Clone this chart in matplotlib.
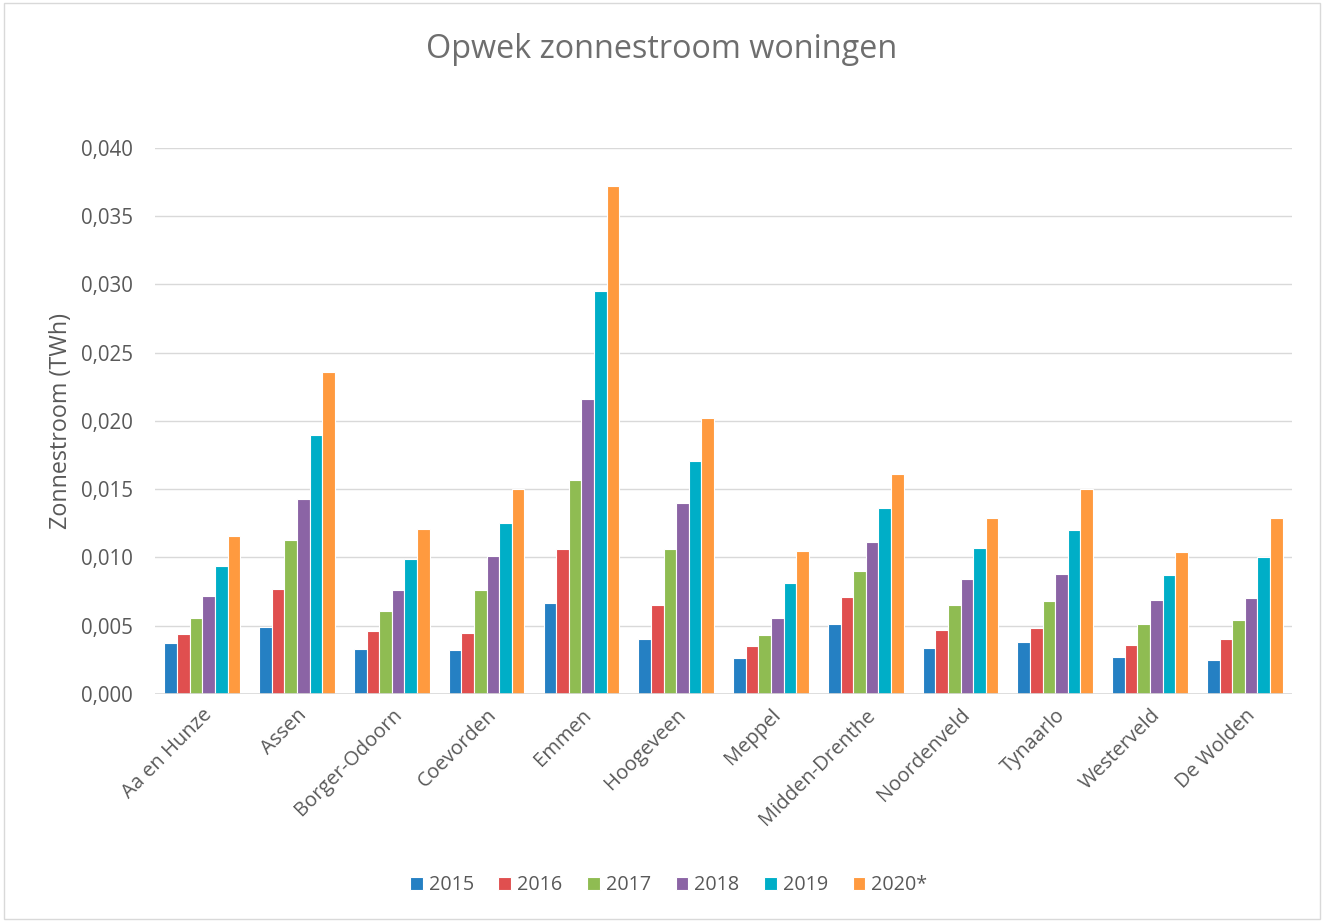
import matplotlib
matplotlib.use("Agg")
import matplotlib.pyplot as plt
import matplotlib.ticker as mticker
import numpy as np

# ── data ──────────────────────────────────────────────────────────────
gemeenten = ["Aa en Hunze", "Assen", "Borger-Odoorn", "Coevorden", "Emmen",
             "Hoogeveen", "Meppel", "Midden-Drenthe", "Noordenveld",
             "Tynaarlo", "Westerveld", "De Wolden"]
jaren = ["2015", "2016", "2017", "2018", "2019", "2020*"]

v2015 = [0.0037, 0.0049, 0.0033, 0.0032, 0.0067, 0.0040, 0.0026, 0.0051, 0.0034, 0.0038, 0.0027, 0.0025]
v2016 = [0.0044, 0.0077, 0.0046, 0.0045, 0.0106, 0.0065, 0.0035, 0.0071, 0.0047, 0.0048, 0.0036, 0.0040]
v2017 = [0.0056, 0.0113, 0.0061, 0.0076, 0.0157, 0.0106, 0.0043, 0.0090, 0.0065, 0.0068, 0.0051, 0.0054]
v2018 = [0.0072, 0.0143, 0.0076, 0.0101, 0.0216, 0.0140, 0.0056, 0.0111, 0.0084, 0.0088, 0.0069, 0.0070]
v2019 = [0.0094, 0.0190, 0.0099, 0.0125, 0.0295, 0.0171, 0.0081, 0.0136, 0.0107, 0.0120, 0.0087, 0.0100]
v2020 = [0.0116, 0.0236, 0.0121, 0.0150, 0.0372, 0.0202, 0.0105, 0.0161, 0.0129, 0.0150, 0.0104, 0.0129]
series = [v2015, v2016, v2017, v2018, v2019, v2020]

kleuren = ["#2580C3", "#E04F4F", "#8FBC52", "#8B64A5", "#00AEC7", "#FF9A3F"]
yticks = [0.0, 0.005, 0.010, 0.015, 0.020, 0.025, 0.030, 0.035, 0.040]

TXT = "#595959"
plt.rcParams["font.family"] = ["Open Sans", "DejaVu Sans"]

# ── figure ────────────────────────────────────────────────────────────
fig = plt.figure(figsize=(13.24, 9.22), dpi=100)
fig.patch.set_facecolor("white")
fig.patches.append(plt.Rectangle((0.003, 0.003), 0.994, 0.994, transform=fig.transFigure,
                                 fill=False, edgecolor="#D9D9D9", lw=1.0))

ax = fig.add_axes([0.117, 0.2473, 0.859, 0.5922])

x = np.arange(len(gemeenten))
bw = 0.133
for i, (vals, kl) in enumerate(zip(series, kleuren)):
    offs = (i - 2.5) * bw
    ax.bar(x + offs, vals, width=bw, color=kl, edgecolor="white", linewidth=0.8,
           label=jaren[i], zorder=3)

ax.set_xlim(-0.5, len(gemeenten) - 0.5)
ax.set_ylim(0, 0.040)
ax.set_yticks(yticks)
ax.yaxis.set_major_formatter(mticker.FuncFormatter(lambda v, _: f"{v:.3f}".replace(".", ",")))
ax.tick_params(axis="y", length=0, labelsize=14.8, colors=TXT, pad=16)
ax.set_xticks(x)
ax.set_xticklabels(gemeenten, rotation=45, ha="right", rotation_mode="anchor",
                   fontsize=14.5, color=TXT)
ax.tick_params(axis="x", length=0, pad=8)

ax.yaxis.grid(True, color="#D9D9D9", lw=1.0, zorder=0)
for s in ax.spines.values():
    s.set_visible(False)
ax.axhline(0, color="#D9D9D9", lw=1.2, zorder=4)

ax.set_ylabel("Zonnestroom (TWh)", fontsize=16.8, color=TXT, labelpad=5.5)

fig.text(0.5, 0.946, "Opwek zonnestroom woningen", ha="center", va="center",
         fontsize=23.3, color="#6E6E6E")

leg = fig.legend(loc="center", bbox_to_anchor=(0.505, 0.040), ncol=6, frameon=False,
                 fontsize=14.2, handlelength=0.65, handleheight=0.65, handletextpad=0.3,
                 columnspacing=1.25)
for t in leg.get_texts():
    t.set_color(TXT)

fig.savefig("out.png", dpi=100, facecolor="white")
